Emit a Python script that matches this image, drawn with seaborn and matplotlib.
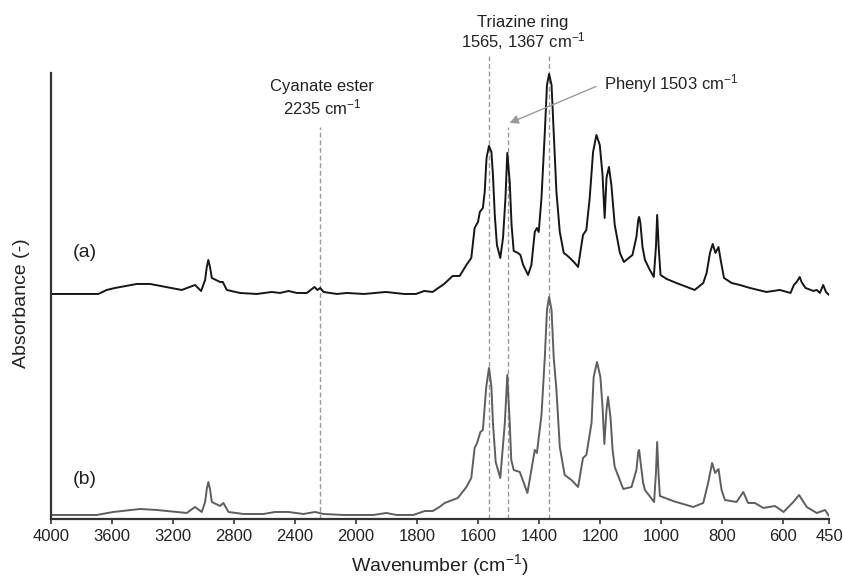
import numpy as np
import matplotlib
matplotlib.use("Agg")
import matplotlib.pyplot as plt
import seaborn as sns

# FTIR spectra (wavenumber, absorbance in a.u.)
wn_a = [4000, 3688, 3633, 3578, 3436, 3349, 3141, 3054, 3014, 2988, 2977,
        2967, 2956, 2944, 2890, 2872, 2846, 2759, 2649, 2551, 2497, 2442,
        2387, 2321, 2271, 2252, 2234, 2212, 2125, 2059, 1973, 1902, 1842,
        1803, 1776, 1749, 1711, 1683, 1660, 1638, 1622, 1611, 1600, 1594,
        1584, 1578, 1572, 1564, 1556, 1551, 1545, 1538, 1527, 1518, 1510,
        1504, 1496, 1490, 1483, 1469, 1461, 1452, 1436, 1425, 1414, 1407,
        1401, 1392, 1381, 1374, 1367, 1359, 1352, 1343, 1332, 1319, 1310,
        1299, 1283, 1272, 1256, 1245, 1234, 1223, 1212, 1201, 1192, 1185,
        1179, 1171, 1163, 1152, 1135, 1122, 1094, 1081, 1075, 1072, 1068,
        1061, 1053, 1037, 1024, 1017, 1013, 1008, 1002, 982, 950, 890, 862,
        851, 840, 831, 822, 812, 805, 794, 769, 742, 709, 655, 611, 576,
        565, 556, 546, 540, 527, 501, 490, 480, 469, 460, 450]
abs_a = [0.00, 0.00, 0.04, 0.06, 0.10, 0.10, 0.04, 0.09, 0.03, 0.14, 0.27,
         0.34, 0.27, 0.16, 0.12, 0.12, 0.04, 0.01, 0.00, 0.02, 0.01, 0.03,
         0.01, 0.01, 0.07, 0.04, 0.06, 0.02, 0.00, 0.01, 0.00, 0.02, 0.00,
         0.00, 0.03, 0.02, 0.10, 0.18, 0.18, 0.29, 0.36, 0.66, 0.72, 0.82,
         0.86, 1.02, 1.36, 1.48, 1.42, 1.19, 0.79, 0.49, 0.36, 0.56, 0.96,
         1.41, 1.12, 0.69, 0.43, 0.41, 0.39, 0.29, 0.19, 0.29, 0.62, 0.66,
         0.62, 0.96, 1.62, 2.09, 2.20, 2.09, 1.62, 1.02, 0.62, 0.41, 0.39,
         0.36, 0.31, 0.27, 0.59, 0.64, 0.96, 1.42, 1.59, 1.49, 1.19, 0.76,
         1.16, 1.27, 1.09, 0.69, 0.41, 0.32, 0.39, 0.57, 0.74, 0.77, 0.71,
         0.47, 0.34, 0.24, 0.17, 0.47, 0.79, 0.47, 0.19, 0.15, 0.11, 0.04,
         0.11, 0.21, 0.41, 0.50, 0.41, 0.47, 0.34, 0.16, 0.11, 0.09, 0.06,
         0.02, 0.04, 0.01, 0.09, 0.12, 0.17, 0.12, 0.06, 0.03, 0.04, 0.01,
         0.09, 0.02, -0.01]

wn_b = [4000, 3698, 3590, 3414, 3305, 3108, 3054, 3010, 2988, 2977, 2967,
        2956, 2944, 2890, 2868, 2835, 2737, 2606, 2529, 2442, 2344, 2267,
        2212, 2081, 1943, 1900, 1867, 1812, 1774, 1748, 1726, 1709, 1666,
        1638, 1622, 1611, 1603, 1592, 1584, 1573, 1564, 1556, 1551, 1542,
        1527, 1512, 1504, 1496, 1491, 1483, 1463, 1438, 1414, 1407, 1392,
        1381, 1374, 1367, 1359, 1352, 1343, 1332, 1316, 1294, 1272, 1256,
        1245, 1228, 1221, 1210, 1199, 1192, 1186, 1179, 1174, 1166, 1159,
        1152, 1124, 1097, 1081, 1075, 1072, 1067, 1059, 1053, 1023, 1017,
        1013, 1008, 1004, 961, 895, 862, 846, 833, 823, 812, 802, 791, 753,
        731, 715, 693, 665, 627, 599, 567, 548, 523, 490, 463, 450]
abs_b = [0.00, 0.00, 0.03, 0.06, 0.05, 0.02, 0.08, 0.03, 0.13, 0.26, 0.33,
         0.26, 0.13, 0.09, 0.12, 0.03, 0.01, 0.01, 0.03, 0.03, 0.01, 0.03,
         0.01, 0.00, 0.00, 0.02, 0.00, 0.00, 0.04, 0.04, 0.08, 0.12, 0.17,
         0.28, 0.37, 0.67, 0.72, 0.83, 0.85, 1.28, 1.47, 1.28, 0.92, 0.53,
         0.37, 0.92, 1.40, 0.92, 0.55, 0.45, 0.43, 0.22, 0.65, 0.62, 1.00,
         1.58, 2.05, 2.18, 2.05, 1.58, 1.25, 0.68, 0.40, 0.35, 0.28, 0.57,
         0.60, 0.92, 1.38, 1.53, 1.38, 1.08, 0.71, 1.05, 1.18, 0.98, 0.65,
         0.48, 0.26, 0.28, 0.45, 0.63, 0.65, 0.52, 0.32, 0.25, 0.13, 0.42,
         0.73, 0.38, 0.19, 0.14, 0.08, 0.12, 0.32, 0.52, 0.42, 0.46, 0.25,
         0.15, 0.13, 0.23, 0.12, 0.12, 0.07, 0.09, 0.03, 0.13, 0.20, 0.08,
         0.02, 0.05, -0.01]

x_ticks = [4000, 3600, 3200, 2800, 2400, 2000, 1800, 1600, 1400, 1200,
           1000, 800, 600, 450]
marker_wn = [2235, 1565, 1503, 1367]


def fwd(x):
    # FTIR style axis: region above 2000 cm-1 compressed by a factor 2
    x = np.asarray(x, dtype=float)
    return np.where(x > 2000, 2000 + (x - 2000) / 2.0, x)


def inv(u):
    u = np.asarray(u, dtype=float)
    return np.where(u > 2000, 2000 + (u - 2000) * 2.0, u)


def main():
    sns.set_style("white")
    plt.rcParams['font.family'] = ['Liberation Sans', 'DejaVu Sans']
    plt.rcParams['mathtext.fontset'] = 'custom'
    plt.rcParams['mathtext.rm'] = 'Liberation Sans'
    plt.rcParams['mathtext.it'] = 'Liberation Sans:italic'
    plt.rcParams['mathtext.bf'] = 'Liberation Sans:bold'

    fig = plt.figure(figsize=(8.43, 5.8), dpi=100)
    ax = fig.add_axes([0.0601, 0.1052, 0.9233, 0.769])

    off_a = 2.25
    off_b = 0.04
    sns.lineplot(x=wn_a, y=np.array(abs_a) + off_a, ax=ax, color="#161616",
                 lw=1.4, estimator=None)
    sns.lineplot(x=wn_b, y=np.array(abs_b) + off_b, ax=ax, color="#5e5e5e",
                 lw=1.4, estimator=None)

    ax.set_xscale('function', functions=(fwd, inv))
    ax.set_xlim(4000, 450)
    ax.set_ylim(0, 4.46)
    ax.set_xticks(x_ticks)
    ax.set_xticklabels([str(t) for t in x_ticks])
    ax.set_yticks([])

    # dashed marker lines
    tops = [3.92, 4.63, 3.92, 4.63]
    for w, t in zip(marker_wn, tops):
        ax.vlines(w, 0, t, colors="#9a9a9a", lw=1.0,
                  linestyles=(0, (3.5, 2)), clip_on=False, zorder=1)

    for s in ["top", "right"]:
        ax.spines[s].set_visible(False)
    for s in ["left", "bottom"]:
        ax.spines[s].set_color("#333333")
        ax.spines[s].set_linewidth(1.6)
    ax.tick_params(axis='x', direction='out', length=3.5, width=1.2,
                   color="#333333", labelsize=12, pad=4,
                   labelcolor="#222222", bottom=True)

    ax.set_xlabel(r"Wavenumber (cm$^{-1}$)", fontsize=14, color="#222222")
    ax.xaxis.label.set_va("center")
    ax.xaxis.set_label_coords(0.5, -0.104)
    ax.set_ylabel("Absorbance (-)", fontsize=14, color="#222222")
    ax.yaxis.label.set_va("center")
    ax.yaxis.set_label_coords(-0.038, 0.484)

    W, H = 843.0, 580.0
    tc = "#222222"
    fig.text(523 / W, 1 - 22 / H, "Triazine ring", ha="center",
             va="center", fontsize=12, color=tc)
    fig.text(523 / W, 1 - 41 / H, r"1565, 1367 cm$^{-1}$", ha="center",
             va="center", fontsize=12, color=tc)
    fig.text(322 / W, 1 - 87 / H, "Cyanate ester", ha="center",
             va="center", fontsize=12, color=tc)
    fig.text(322 / W, 1 - 107 / H, r"2235 cm$^{-1}$", ha="center",
             va="center", fontsize=12, color=tc)
    fig.text(604 / W, 1 - 84 / H, r"Phenyl 1503 cm$^{-1}$", ha="left",
             va="center", fontsize=12, color=tc)
    fig.text(85 / W, 1 - 253 / H, "(a)", ha="center", va="center",
             fontsize=14, color=tc)
    fig.text(85 / W, 1 - 480 / H, "(b)", ha="center", va="center",
             fontsize=14, color=tc)

    ax.annotate("", xy=(509.5 / W, 1 - 123 / H),
                xytext=(596 / W, 1 - 86.5 / H),
                xycoords="figure fraction", textcoords="figure fraction",
                arrowprops=dict(arrowstyle="-|>", color="#9a9a9a", lw=1.0,
                                mutation_scale=13, shrinkA=0, shrinkB=0))

    fig.savefig("out.png", dpi=100)


if __name__ == "__main__":
    main()
